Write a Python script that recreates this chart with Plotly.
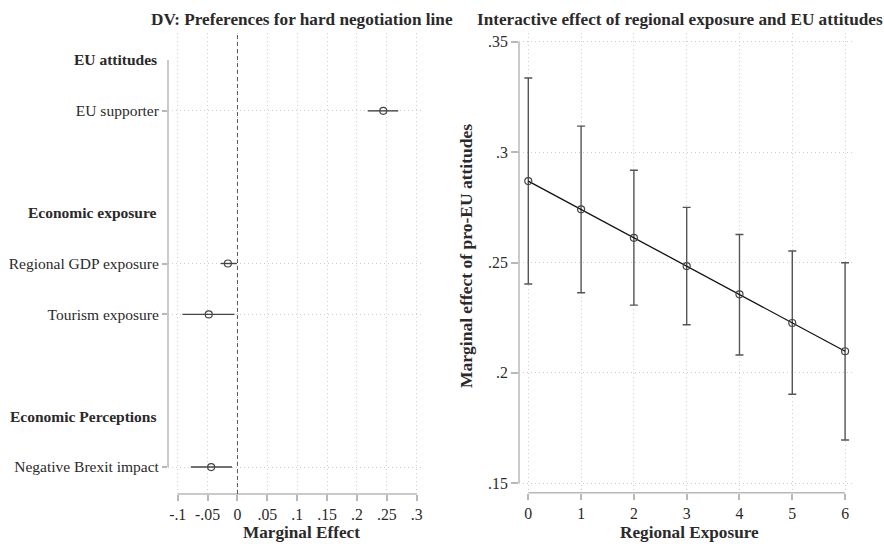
import plotly.graph_objects as go

W, H = 884, 544

# ---------------- Left panel data ----------------
items = ["EU supporter", "Regional GDP exposure", "Tourism exposure", "Negative Brexit impact"]
item_pos = [1, 4, 5, 8]
headers = ["EU attitudes", "Economic exposure", "Economic Perceptions"]
header_pos = [0, 3, 7]
coef = [0.244, -0.016, -0.048, -0.044]
ci_lo = [0.218, -0.028, -0.092, -0.078]
ci_hi = [0.269, -0.001, -0.005, -0.009]
x_ticks = [-0.1, -0.05, 0, 0.05, 0.1, 0.15, 0.2, 0.25, 0.3]
x_ticklabels = ["-.1", "-.05", "0", ".05", ".1", ".15", ".2", ".25", ".3"]

# ---------------- Right panel data ----------------
exposure = [0, 1, 2, 3, 4, 5, 6]
me = [0.2869, 0.2741, 0.2612, 0.2484, 0.2356, 0.2226, 0.2098]
me_lo = [0.2403, 0.2363, 0.2307, 0.2218, 0.2081, 0.1903, 0.1696]
me_hi = [0.3336, 0.3118, 0.2918, 0.2750, 0.2627, 0.2552, 0.2499]
y2_ticks = [0.15, 0.2, 0.25, 0.3, 0.35]
y2_ticklabels = [".15", ".2", ".25", ".3", ".35"]
x2_ticks = [0, 1, 2, 3, 4, 5, 6]

FONT = "Liberation Serif, Times New Roman, serif"
TXT = "#2a2a2a"
GRID = "#cfcfcf"
AXIS = "#b8b8b8"
DOT = "1px,3px"

fig = go.Figure()

fig.add_trace(go.Scatter(
    x=coef, y=item_pos, mode="markers",
    marker=dict(symbol="circle-open", size=7, color="#444", line=dict(width=1.2)),
    error_x=dict(type="data", symmetric=False,
                 array=[h - c for h, c in zip(ci_hi, coef)],
                 arrayminus=[c - l for c, l in zip(coef, ci_lo)],
                 width=0, thickness=1.4, color="#444"),
    xaxis="x", yaxis="y", showlegend=False, hoverinfo="skip"))

fig.add_trace(go.Scatter(
    x=exposure, y=me, mode="lines+markers",
    line=dict(color="#111", width=1.3),
    marker=dict(symbol="circle-open", size=7, color="#444", line=dict(width=1.2)),
    error_y=dict(type="data", symmetric=False,
                 array=[h - m for h, m in zip(me_hi, me)],
                 arrayminus=[m - l for m, l in zip(me, me_lo)],
                 width=4, thickness=1.4, color="#555"),
    xaxis="x2", yaxis="y2", showlegend=False, hoverinfo="skip"))

def px_x(p):
    return p / W

def px_y(p):
    return 1 - p / H

numfont = dict(family=FONT, size=15.8, color=TXT)
catfont = dict(family=FONT, size=15.5, color=TXT)

fig.update_layout(
    width=W, height=H,
    margin=dict(l=0, r=0, t=0, b=0),
    paper_bgcolor="white", plot_bgcolor="white",
    font=dict(family=FONT, color=TXT),
    xaxis=dict(domain=[px_x(168), px_x(423)], range=[-0.1162, 0.3105],
               tickvals=x_ticks, ticktext=x_ticklabels, tickfont=numfont,
               ticks="outside", ticklen=6, tickcolor=AXIS, tickwidth=1.5,
               showline=False, zeroline=False,
               showgrid=True, gridcolor=GRID, griddash=DOT, gridwidth=1,
               anchor="y", ticklabelstandoff=0),
    yaxis=dict(domain=[px_y(494), px_y(33)], range=[8.53, -0.53],
               tickvals=item_pos, ticktext=items, tickfont=catfont,
               ticks="outside", ticklen=5, tickcolor=AXIS, tickwidth=1.5,
               showline=False, zeroline=False,
               showgrid=True, gridcolor=GRID, griddash=DOT, gridwidth=1,
               anchor="x"),
    xaxis2=dict(domain=[px_x(519), px_x(853)], range=[-0.176, 6.15],
                tickvals=x2_ticks, tickfont=numfont,
                ticks="outside", ticklen=6, tickcolor=AXIS, tickwidth=1.5,
                showline=False, zeroline=False,
                showgrid=True, gridcolor=GRID, griddash=DOT, gridwidth=1,
                anchor="y2", ticklabelstandoff=0),
    yaxis2=dict(domain=[px_y(492.7), px_y(33)], range=[0.1457, 0.354],
                tickvals=y2_ticks, ticktext=y2_ticklabels, tickfont=numfont,
                ticks="outside", ticklen=7, tickcolor=AXIS, tickwidth=1.5,
                showline=False, zeroline=False,
                showgrid=True, gridcolor=GRID, griddash=DOT, gridwidth=1,
                anchor="x2"),
)

shapes = [
    dict(type="line", xref="x domain", yref="y", x0=0, x1=0,
         y0=min(header_pos), y1=max(item_pos), line=dict(color=AXIS, width=1.5)),
    dict(type="line", xref="x", yref="y domain", x0=x_ticks[0], x1=x_ticks[-1],
         y0=0, y1=0, line=dict(color=AXIS, width=1.5)),
    dict(type="line", xref="x", yref="y domain", x0=0, x1=0, y0=0, y1=1,
         line=dict(color="#555", width=1, dash="4px,3px")),
    dict(type="line", xref="x2", yref="y2 domain", x0=x2_ticks[0], x1=x2_ticks[-1],
         y0=0, y1=0, line=dict(color=AXIS, width=1.5)),
    dict(type="line", xref="x2 domain", yref="y2", x0=0, x1=0,
         y0=y2_ticks[0], y1=y2_ticks[-1], line=dict(color=AXIS, width=1.5)),
]
fig.update_layout(shapes=shapes)

ann = []
for h, p in zip(headers, header_pos):
    ann.append(dict(text="<b>" + h + "</b>", xref="x domain", yref="y", x=0, y=p,
                    xanchor="right", yanchor="middle", xshift=-9, showarrow=False,
                    font=catfont))
titlefont = dict(family=FONT, size=17.2, color=TXT)
axtitlefont = dict(family=FONT, size=17.2, color=TXT)
ann += [
    dict(text="<b>DV: Preferences for hard negotiation line</b>", xref="paper", yref="paper",
         x=px_x(302), y=px_y(20), xanchor="center", yanchor="middle", showarrow=False, font=titlefont),
    dict(text="<b>Interactive effect of regional exposure and EU attitudes</b>", xref="paper", yref="paper",
         x=px_x(680), y=px_y(20), xanchor="center", yanchor="middle", showarrow=False, font=titlefont),
    dict(text="<b>Marginal Effect</b>", xref="paper", yref="paper",
         x=px_x(301), y=0, xanchor="center", yanchor="bottom", showarrow=False, font=axtitlefont),
    dict(text="<b>Regional Exposure</b>", xref="paper", yref="paper",
         x=px_x(689), y=0, xanchor="center", yanchor="bottom", showarrow=False, font=axtitlefont),
    dict(text="<b>Marginal effect of pro-EU attitudes</b>", xref="paper", yref="paper",
         x=px_x(466), y=px_y(256), xanchor="center", yanchor="middle", textangle=-90,
         showarrow=False, font=dict(family=FONT, size=17.5, color=TXT)),
]
fig.update_layout(annotations=ann)

fig.write_html("out.html", config={"displayModeBar": False},
               post_script="document.body.style.margin='0';document.body.style.overflow='hidden';")
